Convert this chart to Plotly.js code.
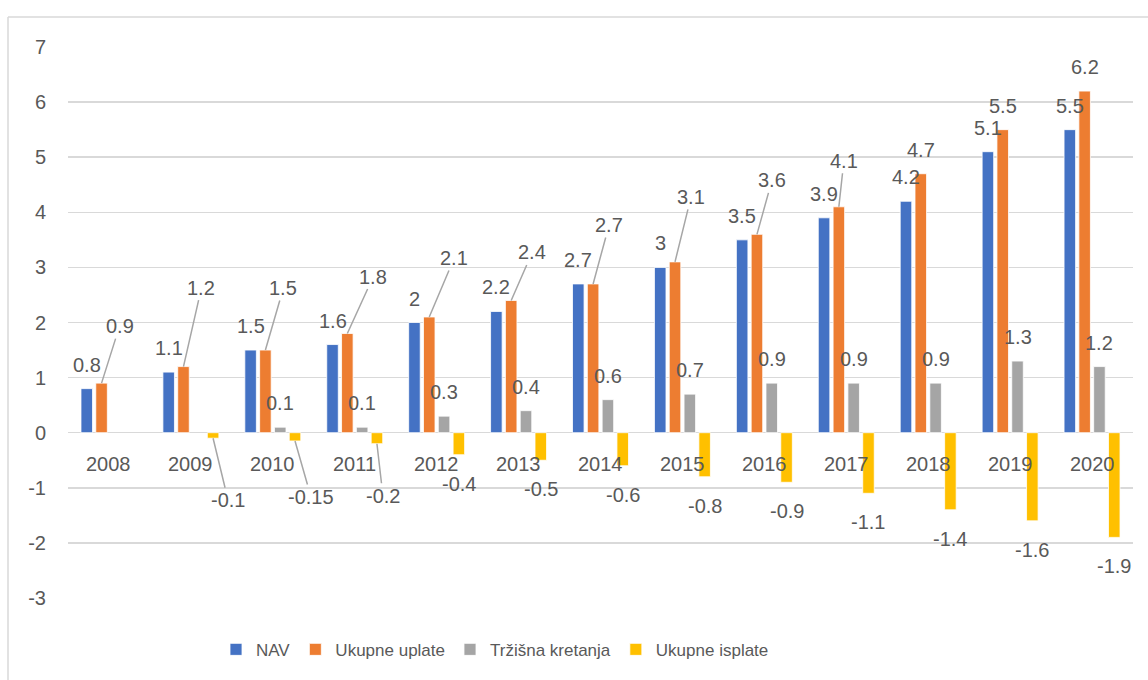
<!DOCTYPE html>
<html>
<head>
<meta charset="utf-8">
<script src="https://cdn.plot.ly/plotly-3.0.1.min.js"></script>
<style>
  html, body { margin: 0; padding: 0; background: #ffffff; }
  #chart { width: 1148px; height: 680px; }
</style>
</head>
<body>
<div id="chart"></div>
<script>
// ---- data ----
const categories = ['2008','2009','2010','2011','2012','2013','2014','2015','2016','2017','2018','2019','2020'];
const navValues = [0.8, 1.1, 1.5, 1.6, 2, 2.2, 2.7, 3, 3.5, 3.9, 4.2, 5.1, 5.5];
const uplateValues = [0.9, 1.2, 1.5, 1.8, 2.1, 2.4, 2.7, 3.1, 3.6, 4.1, 4.7, 5.5, 6.2];
const trzisnaValues = [null, null, 0.1, 0.1, 0.3, 0.4, 0.6, 0.7, 0.9, 0.9, 0.9, 1.3, 1.2];
const isplateValues = [null, -0.1, -0.15, -0.2, -0.4, -0.5, -0.6, -0.8, -0.9, -1.1, -1.4, -1.6, -1.9];
const seriesNames = ['NAV', 'Ukupne uplate', 'Tržišna kretanja', 'Ukupne isplate'];
const yTicks = [-3, -2, -1, 0, 1, 2, 3, 4, 5, 6, 7];

// ---- styles ----
const colors = ['#4472C4', '#ED7D31', '#A5A5A5', '#FFC000'];
const textColor = '#595959';
const gridColor = '#D9D9D9';
const fontFamily = '"Liberation Sans", Arial, sans-serif';
const W = 1148, H = 680;
const margin = {l: 68, r: 15, t: 47, b: 80};
const bargap = 0.277, bargroupgap = 0.22;

// label placement (pixel offsets of leader-line labels from the bar end)
const leaderLabels = [
  {s: 1, i: 0, dx: 18, dy: -57},
  {s: 1, i: 1, dx: 18, dy: -79},
  {s: 3, i: 1, dx: 15, dy: 62},
  {s: 1, i: 2, dx: 18, dy: -62},
  {s: 3, i: 2, dx: 16, dy: 56},
  {s: 1, i: 3, dx: 26, dy: -57},
  {s: 3, i: 3, dx: 6, dy: 52},
  {s: 1, i: 4, dx: 25, dy: -59},
  {s: 1, i: 5, dx: 21, dy: -48},
  {s: 1, i: 6, dx: 16, dy: -59},
  {s: 1, i: 7, dx: 16, dy: -65},
  {s: 1, i: 8, dx: 15, dy: -54},
  {s: 1, i: 9, dx: 5, dy: -46}
];

const allValues = [navValues, uplateValues, trzisnaValues, isplateValues];

const traces = allValues.map((vals, s) => ({
  type: 'bar',
  name: seriesNames[s],
  x: categories,
  y: vals,
  marker: {color: colors[s], line: {color: '#ffffff', width: 0.8}},
  hoverinfo: 'skip'
}));

// geometry helpers for label offsets
const plotW = W - margin.l - margin.r;
const catW = plotW / categories.length;
const slotW = catW * (1 - bargap) / allValues.length;

const annotations = [];
allValues.forEach((vals, s) => {
  const xs = (s - (allValues.length - 1) / 2) * slotW;
  vals.forEach((v, i) => {
    if (v === null) return;
    const leader = leaderLabels.find(l => l.s === s && l.i === i);
    const base = {
      x: i, y: v, xref: 'x', yref: 'y',   // category index on the category axis
      text: String(v), xshift: xs,
      font: {family: fontFamily, size: 20, color: textColor}
    };
    if (leader) {
      annotations.push(Object.assign(base, {
        showarrow: true, arrowhead: 0, arrowwidth: 1.5, arrowcolor: '#A6A6A6',
        ax: leader.dx, ay: leader.dy, standoff: 0, startstandoff: 0
      }));
    } else {
      annotations.push(Object.assign(base, {
        showarrow: false, xanchor: 'center', yanchor: 'middle',
        yshift: v >= 0 ? 24 : -29
      }));
    }
  });
});

// category labels drawn just below the zero line
categories.forEach((c, i) => {
  annotations.push({
    x: i, y: 0, xref: 'x', yref: 'y', text: c, showarrow: false,
    xanchor: 'center', yanchor: 'middle', yshift: -31,
    font: {family: fontFamily, size: 20, color: textColor}
  });
});

// outer chart-area border (left and top edges)
const px = xPix => (xPix - margin.l) / plotW;
const py = yPix => (H - margin.b - yPix) / (H - margin.t - margin.b);
const shapes = [
  {type: 'line', xref: 'paper', yref: 'paper', x0: px(8), x1: px(8), y0: py(17), y1: py(700),
   line: {color: gridColor, width: 1.5}},
  {type: 'line', xref: 'paper', yref: 'paper', x0: px(8), x1: px(1170), y0: py(17), y1: py(17),
   line: {color: gridColor, width: 1.5}}
];

const layout = {
  width: W, height: H,
  margin: margin,
  paper_bgcolor: '#ffffff', plot_bgcolor: '#ffffff',
  barmode: 'group', bargap: bargap, bargroupgap: bargroupgap,
  showlegend: true,
  legend: {
    orientation: 'h', x: px(216), xanchor: 'left', y: py(652), yanchor: 'middle',
    font: {family: fontFamily, size: 17, color: textColor},
    itemwidth: 30, traceorder: 'normal', bgcolor: 'rgba(0,0,0,0)'
  },
  xaxis: {
    type: 'category', range: [-0.5, categories.length - 0.5], autorange: false,
    showticklabels: false, showgrid: false, zeroline: false,
    showline: false, ticks: '', fixedrange: true
  },
  yaxis: {
    range: [-3, 7], autorange: false, tickvals: yTicks, ticktext: yTicks.map(String),
    showgrid: true, gridcolor: gridColor, gridwidth: 1.5,
    zeroline: false, showline: false, ticks: '', ticklabelstandoff: 21,
    tickfont: {family: fontFamily, size: 20, color: textColor}, fixedrange: true
  },
  annotations: annotations,
  shapes: shapes,
  hovermode: false
};

Plotly.newPlot('chart', traces, layout, {displayModeBar: false, staticPlot: true});
</script>
</body>
</html>
